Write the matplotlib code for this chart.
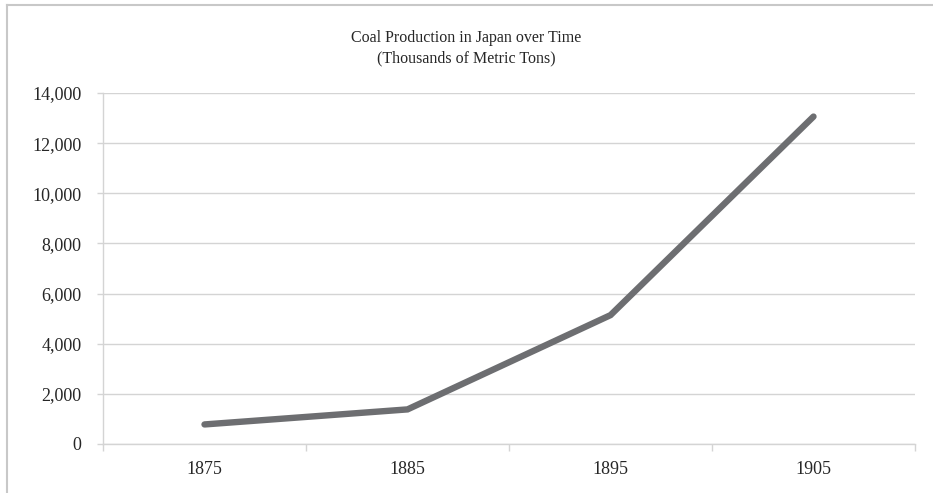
import matplotlib
matplotlib.use("Agg")
import matplotlib.pyplot as plt
from matplotlib.ticker import FuncFormatter
from matplotlib.lines import Line2D

# data
years = ["1875", "1885", "1895", "1905"]
coal = [780, 1380, 5140, 13060]
y_ticks = [0, 2000, 4000, 6000, 8000, 10000, 12000, 14000]

title_lines = ["Coal Production in Japan over Time", "(Thousands of Metric Tons)"]

grid_col = "#d4d4d4"
line_col = "#6d6e71"
text_col = "#262626"

plt.rcParams["font.family"] = ["Liberation Serif", "DejaVu Serif"]

W, H = 933, 493
fig = plt.figure(figsize=(W / 100, H / 100), dpi=100)
ax = fig.add_axes([103 / W, 49 / H, 812 / W, 351 / H])

x = list(range(len(years)))
ax.plot(x, coal, color=line_col, linewidth=4.6, solid_capstyle="round",
        solid_joinstyle="miter", zorder=3)

ax.set_xlim(-0.5, len(years) - 0.5)
ax.set_ylim(0, 14000)
ax.set_yticks(y_ticks)
ax.yaxis.set_major_formatter(FuncFormatter(lambda v, p: "{:,.0f}".format(v)))
ax.yaxis.grid(True, color=grid_col, linewidth=1.0)
ax.set_axisbelow(True)

# category labels centred, tick marks on the boundaries
ax.set_xticks(x)
ax.set_xticklabels(years)
ax.set_xticks([i - 0.5 for i in range(len(years) + 1)], minor=True)
ax.tick_params(axis="x", which="major", length=0, pad=12, labelsize=13, labelcolor=text_col)
ax.tick_params(axis="x", which="minor", length=5, width=1.0, color=grid_col)
ax.tick_params(axis="y", which="major", length=4.5, width=1.0, color=grid_col,
               pad=11, labelsize=13, labelcolor=text_col)

for s in ["top", "right"]:
    ax.spines[s].set_visible(False)
for s in ["left", "bottom"]:
    ax.spines[s].set_color(grid_col)
    ax.spines[s].set_linewidth(1.0)

# two title lines, placed by their baselines (pixels from the top)
for line, base in zip(title_lines, [42, 62]):
    fig.text(0.5, 1 - base / H, line, ha="center", va="baseline",
             fontsize=11.5, color=text_col)

# outer chart frame (only left and top edges show in the reference)
fig.add_artist(Line2D([7.5 / W, 7.5 / W], [0, 1 - 5 / H],
                      transform=fig.transFigure, color="#c8c8c8", linewidth=1.5))
fig.add_artist(Line2D([7.5 / W, 1], [1 - 5 / H, 1 - 5 / H],
                      transform=fig.transFigure, color="#c8c8c8", linewidth=1.5))

fig.savefig("out.png", dpi=100)
